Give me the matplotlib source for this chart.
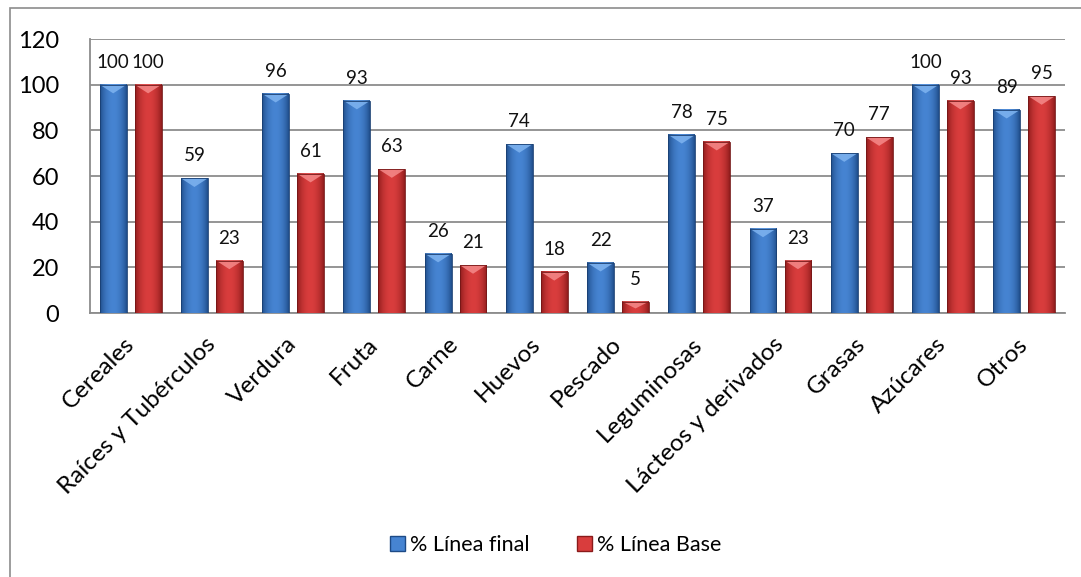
import numpy as np
import matplotlib

matplotlib.use("Agg")
import matplotlib.pyplot as plt
from matplotlib.patches import Patch, Polygon, Rectangle

plt.rcParams["font.family"] = ["Lato", "DejaVu Sans"]

categorias = ["Cereales", "Raíces y Tubérculos", "Verdura", "Fruta", "Carne",
              "Huevos", "Pescado", "Leguminosas", "Lácteos y derivados",
              "Grasas", "Azúcares", "Otros"]
linea_final = [100, 59, 96, 93, 26, 74, 22, 78, 37, 70, 100, 89]
linea_base = [100, 23, 61, 63, 21, 18, 5, 75, 23, 77, 93, 95]
series_names = ["% Línea final", "% Línea Base"]

# (dark edge, light centre, top bevel)
BLUE = ("#1d4a86", "#4684d2", "#7fb4f0")
RED = ("#8a1a1a", "#d93d3d", "#f58a8a")


def shade_bars(ax, bars, pal):
    edge, mid, top = [np.array(matplotlib.colors.to_rgb(c)) for c in pal]
    t = np.linspace(0, 1, 64)
    w = np.sin(np.pi * t) ** 0.7  # cylinder-like falloff to the edges
    grad = edge[None, :] * (1 - w[:, None]) + mid[None, :] * w[:, None]
    img = grad[None, :, :]
    for b in bars:
        x, w_, h = b.get_x(), b.get_width(), b.get_height()
        ax.imshow(img, extent=[x, x + w_, 0, h], aspect="auto",
                  interpolation="bicubic", zorder=3)
        cap = min(3.8, h * 0.6)
        ax.add_patch(Polygon([(x, h), (x + w_, h), (x + w_ / 2, h - cap)],
                             closed=True, facecolor=top, edgecolor="none",
                             alpha=0.85, zorder=4))
        ax.add_patch(Rectangle((x, 0), w_, h, facecolor="none",
                               edgecolor=edge * 0.85, lw=0.6, zorder=5))


fig = plt.figure(figsize=(10.81, 5.77), dpi=100)
ax = fig.add_axes([0.0833, 0.4575, 0.9017, 0.4749])

x = np.arange(len(categorias))
bw = 0.33
off = 0.215
b1 = ax.bar(x - off, linea_final, bw, color="none", zorder=2)
b2 = ax.bar(x + off, linea_base, bw, color="none", zorder=2)
ax.set_xlim(-0.5, len(categorias) - 0.5)
ax.set_ylim(0, 120)
shade_bars(ax, b1, BLUE)
shade_bars(ax, b2, RED)

for xs, vals in ((x - off, linea_final), (x + off, linea_base)):
    for xi, v in zip(xs, vals):
        ax.annotate(str(v), (xi, v), xytext=(0, 10), textcoords="offset points",
                    ha="center", va="bottom", fontsize=13.5, color="#111111",
                    zorder=6)

ax.set_yticks(np.arange(0, 121, 20))
ax.yaxis.grid(True, color="#8c8c8c", lw=1.3)
ax.set_axisbelow(True)
ax.tick_params(axis="y", length=0, pad=22, labelsize=17)
ax.tick_params(axis="x", length=0, pad=20)
ax.set_xticks(x)
ax.set_xticklabels(categorias, rotation=45, ha="right", va="center",
                   rotation_mode="anchor", fontsize=17.5)
for s in ("top", "right"):
    ax.spines[s].set_visible(False)
for s in ("left", "bottom"):
    ax.spines[s].set_color("#8c8c8c")
    ax.spines[s].set_linewidth(1.3)

handles = [Patch(facecolor=BLUE[1], edgecolor=BLUE[0]),
           Patch(facecolor=RED[1], edgecolor=RED[0])]
fig.legend(handles, series_names, loc="center", bbox_to_anchor=(0.514, 0.055),
           ncol=2, frameon=False, fontsize=15.5, handlelength=0.7,
           handleheight=0.7, handletextpad=0.25, columnspacing=2.2)

# outer chart frame
fig.add_artist(Rectangle((0.0093, -0.05), 1.2, 1.0362, transform=fig.transFigure,
                         facecolor="none", edgecolor="#8c8c8c", lw=1.2))

fig.savefig("out.png", dpi=100)
